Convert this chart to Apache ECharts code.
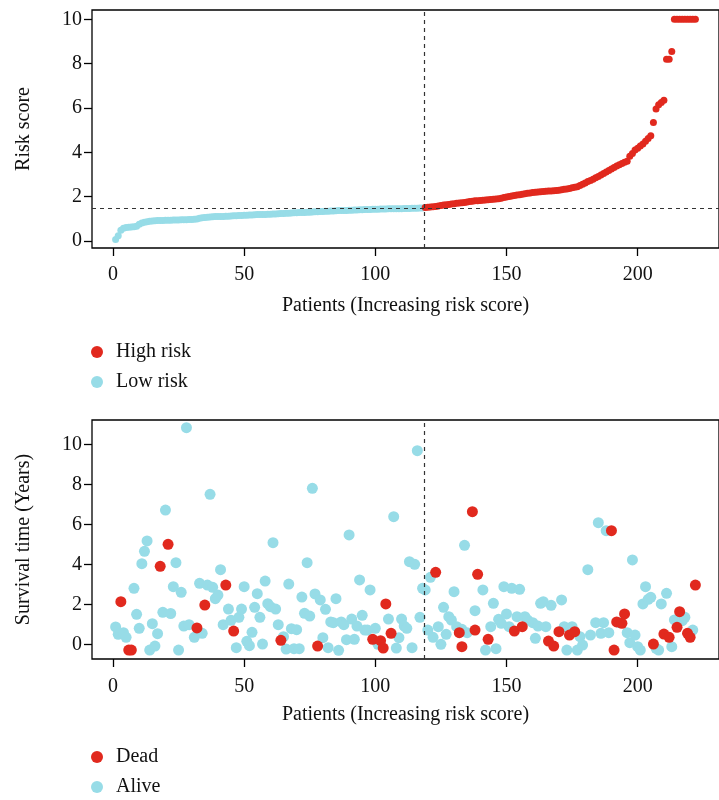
<!DOCTYPE html>
<html>
<head>
<meta charset="utf-8">
<script src="https://cdn.jsdelivr.net/npm/echarts@6/dist/echarts.min.js"></script>
<style>
  html, body { margin: 0; padding: 0; background: #fff; }
  #chart { width: 719px; height: 800px; }
</style>
</head>
<body>
<div id="chart"></div>
<script>
// Risk score of every patient, sorted ascending (patients 1..222)
const riskScore = [
  0.07, 0.24, 0.49, 0.57, 0.61, 0.62, 0.63, 0.64, 0.66, 0.76,
  0.81, 0.84, 0.87, 0.89, 0.90, 0.91, 0.92, 0.93, 0.93, 0.94,
  0.94, 0.94, 0.95, 0.95, 0.95, 0.96, 0.96, 0.96, 0.97, 0.97,
  0.98, 0.99, 1.03, 1.05, 1.06, 1.07, 1.08, 1.09, 1.10, 1.10,
  1.11, 1.11, 1.12, 1.12, 1.13, 1.14, 1.14, 1.15, 1.15, 1.16,
  1.16, 1.17, 1.17, 1.18, 1.19, 1.19, 1.20, 1.20, 1.21, 1.21,
  1.22, 1.22, 1.23, 1.24, 1.24, 1.25, 1.25, 1.26, 1.27, 1.27,
  1.28, 1.28, 1.29, 1.30, 1.30, 1.31, 1.32, 1.32, 1.33, 1.33,
  1.34, 1.34, 1.35, 1.35, 1.36, 1.37, 1.37, 1.38, 1.38, 1.39,
  1.39, 1.40, 1.40, 1.41, 1.41, 1.42, 1.42, 1.42, 1.43, 1.43,
  1.43, 1.44, 1.44, 1.44, 1.45, 1.45, 1.45, 1.46, 1.46, 1.46,
  1.47, 1.47, 1.47, 1.48, 1.48, 1.48, 1.49, 1.49,
  1.51, 1.52, 1.53, 1.55, 1.56, 1.58, 1.60, 1.62, 1.64, 1.65, 1.67, 1.68,
  1.70, 1.71, 1.73, 1.74, 1.76, 1.78, 1.79, 1.81, 1.82, 1.83,
  1.84, 1.85, 1.86, 1.87, 1.88, 1.89, 1.91, 1.93, 1.96, 1.99,
  2.01, 2.03, 2.05, 2.07, 2.09, 2.11, 2.13, 2.15, 2.17, 2.19,
  2.20, 2.21, 2.22, 2.23, 2.24, 2.25, 2.26, 2.27, 2.28, 2.29,
  2.31, 2.33, 2.35, 2.37, 2.40, 2.42, 2.45, 2.50, 2.56, 2.62,
  2.68, 2.73, 2.79, 2.85, 2.91, 2.98, 3.05, 3.11, 3.18, 3.25,
  3.32, 3.38, 3.44, 3.50, 3.55, 3.60, 3.82, 3.95, 4.10, 4.18,
  4.28, 4.38, 4.50, 4.62, 4.75, 5.35, 5.95, 6.15, 6.25, 6.35,
  8.20, 8.20, 8.55, 10, 10, 10, 10, 10, 10, 10, 10, 10
];
const lowRiskCount = 118;      // patients 1..118 are low risk
const riskCutoff = 1.49;       // median risk score
const splitPatient = 118.5;    // boundary between the two groups

// Survival time (years) by patient rank, split by vital status
const aliveIdx = [1, 2, 4, 5, 8, 9, 10, 11, 12, 13, 14, 15, 16, 17, 19, 20, 22, 23, 24, 25,
  26, 27, 28, 29, 31, 33, 34, 36, 37, 38, 39, 40, 41, 42, 44, 45, 47, 48, 49, 50,
  51, 52, 53, 54, 55, 56, 57, 58, 59, 60, 61, 62, 63, 65, 66, 67, 68, 69, 70, 71,
  72, 73, 74, 75, 76, 77, 79, 80, 81, 82, 83, 84, 85, 86, 87, 88, 89, 90, 91, 92,
  93, 94, 95, 96, 97, 98, 100, 101, 105, 107, 108, 109, 110, 111, 112, 113, 114, 115, 116, 117,
  118, 119, 120, 121, 122, 124, 125, 126, 127, 128, 129, 130, 131, 133, 134, 135, 138, 141, 142, 144,
  145, 146, 147, 148, 149, 150, 151, 152, 154, 155, 157, 158, 160, 161, 162, 163, 164, 165, 167, 171,
  172, 173, 175, 177, 178, 179, 181, 182, 184, 185, 186, 187, 188, 189, 193, 196, 197, 198, 199, 200,
  201, 202, 203, 204, 205, 207, 208, 209, 211, 213, 214, 217, 218, 221];
const aliveYears = [0.89, 0.52, 0.6, 0.37, 2.82, 1.52, 0.82, 4.05, 4.67, 5.19, -0.27, 1.05, -0.07, 0.55, 1.62, 6.73, 1.56, 2.9, 4.1, -0.27,
  2.62, 0.93, 10.85, 1.0, 0.37, 3.07, 0.57, 2.98, 7.52, 2.87, 2.3, 2.48, 3.75, 1.0, 1.78, 1.22, -0.15, 1.37, 1.78, 2.9,
  0.17, -0.05, 0.62, 1.87, 2.55, 1.37, 0.03, 3.18, 2.05, 1.9, 5.1, 1.78, 1.0, 0.4, -0.22, 3.03, 0.8, -0.2, 0.75, -0.2,
  2.38, 1.57, 4.1, 1.43, 7.82, 2.54, 2.24, 0.35, 1.77, -0.15, 1.14, 1.1, 2.3, -0.28, 1.14, 1.0, 0.25, 5.49, 1.28, 0.27,
  0.93, 3.24, 1.47, 0.73, 0.73, 2.74, 0.82, 0.02, 1.28, 6.4, -0.17, 0.35, 1.28, 0.93, 0.82, 4.15, -0.15, 4.02, 9.7, 1.37,
  2.82, 2.74, 0.73, 3.37, 0.37, 0.9, 0.02, 1.87, 0.52, 1.4, 1.23, 2.65, 0.9, 0.77, 4.97, 0.6, 1.7, 2.74, -0.27, 0.9,
  2.07, -0.2, 1.27, 1.07, 2.9, 1.54, 0.9, 2.82, 1.4, 2.77, 1.4, 1.24, 1.1, 0.32, 0.93, 2.07, 2.15, 0.9, 1.97, 2.24,
  0.9, -0.27, 0.9, -0.27, 0.4, -0.02, 3.75, 0.48, 1.1, 6.1, 0.57, 1.1, 5.7, 0.6, 1.1, 0.6, 0.1, 4.24, 0.48, -0.1,
  -0.27, 2.04, 2.9, 2.27, 2.37, -0.18, -0.27, 2.04, 2.57, -0.1, 1.24, 1.2, 1.37, 0.73];
const deadIdx = [3, 6, 7, 18, 21, 32, 35, 43, 46, 64, 78, 99, 102, 103, 104, 106, 123, 132, 133, 137,
  138, 139, 143, 153, 156, 166, 168, 170, 174, 176, 190, 191, 192, 194, 195, 206, 210, 212, 215, 216,
  219, 220, 222];
const deadYears = [2.15, -0.27, -0.27, 3.92, 5.02, 0.84, 1.98, 2.98, 0.68, 0.22, -0.07, 0.27, 0.2, -0.17, 2.04, 0.57, 3.62, 0.6, -0.1, 6.65,
  0.73, 3.52, 0.27, 0.68, 0.9, 0.18, -0.07, 0.65, 0.48, 0.65, 5.7, -0.27, 1.14, 1.07, 1.54, 0.03, 0.53, 0.37, 0.87, 1.65,
  0.57, 0.37, 2.98];

// Tick values on the axes
const patientTicks = [0, 50, 100, 150, 200];
const riskTicks = [0, 2, 4, 6, 8, 10];
const survivalTicks = [0, 2, 4, 6, 8, 10];

const RED = '#E1291E';
const BLUE = '#97DCE7';
const FONT = 'Liberation Serif';
const textBase = { fontFamily: FONT, fontSize: 20, color: '#111' };

const highData = [], lowData = [];
riskScore.forEach((v, i) => {
  (i < lowRiskCount ? lowData : highData).push([i + 1, v]);
});
const aliveData = aliveIdx.map((p, i) => [p, aliveYears[i]]);
const deadData = deadIdx.map((p, i) => [p, deadYears[i]]);

function xAxisFor(gridIndex, labelMargin, nameGap) {
  return {
    type: 'value', gridIndex, min: -8, max: 231,
    name: 'Patients (Increasing risk score)', nameLocation: 'middle', nameGap,
    nameTextStyle: textBase,
    axisLine: { show: false, onZero: false },
    axisTick: { show: true, length: 8, lineStyle: { color: '#000', width: 1.3 }, customValues: patientTicks },
    axisLabel: { ...textBase, margin: labelMargin, customValues: patientTicks },
    splitLine: { show: false }
  };
}
function yAxisFor(gridIndex, name, min, max, ticks) {
  return {
    type: 'value', gridIndex, min, max,
    name, nameLocation: 'middle', nameGap: 58, nameTextStyle: textBase,
    axisLine: { show: false, onZero: false },
    axisTick: { show: true, length: 8, lineStyle: { color: '#000', width: 1.3 }, customValues: ticks },
    axisLabel: { ...textBase, margin: 10, customValues: ticks },
    splitLine: { show: false }
  };
}
const dashed = { color: '#333', width: 1.2, type: [4, 4] };
const legendBase = {
  orient: 'vertical', left: 91, padding: 0,
  icon: 'circle', itemWidth: 28, itemHeight: 12, itemGap: 10,
  textStyle: { ...textBase, lineHeight: 20 }
};

const option = {
  animation: false,
  backgroundColor: '#fff',
  grid: [
    { left: 92, top: 10, width: 633, height: 238, show: true, borderColor: '#000', borderWidth: 1.3 },
    { left: 92, top: 420, width: 633, height: 239, show: true, borderColor: '#000', borderWidth: 1.3 }
  ],
  xAxis: [xAxisFor(0, 17, 48), xAxisFor(1, 18, 46)],
  yAxis: [
    yAxisFor(0, 'Risk score', -0.316, 10.42, riskTicks),
    yAxisFor(1, 'Survival time (Years)', -0.715, 11.235, survivalTicks)
  ],
  legend: [
    { ...legendBase, data: ['High risk', 'Low risk'], top: 342 },
    { ...legendBase, data: ['Dead', 'Alive'], top: 747, height: 53 }
  ],
  series: [
    {
      name: 'Low risk', type: 'scatter', xAxisIndex: 0, yAxisIndex: 0,
      symbolSize: 7, itemStyle: { color: BLUE, opacity: 1 }, data: lowData,
      markLine: {
        silent: true, symbol: 'none', label: { show: false }, lineStyle: dashed,
        data: [{ yAxis: riskCutoff }, { xAxis: splitPatient }]
      }
    },
    {
      name: 'High risk', type: 'scatter', xAxisIndex: 0, yAxisIndex: 0,
      symbolSize: 7, itemStyle: { color: RED, opacity: 1 }, data: highData
    },
    {
      name: 'Alive', type: 'scatter', xAxisIndex: 1, yAxisIndex: 1,
      symbolSize: 11, itemStyle: { color: BLUE, opacity: 1 }, data: aliveData,
      markLine: {
        silent: true, symbol: 'none', label: { show: false }, lineStyle: dashed,
        data: [{ xAxis: splitPatient }]
      }
    },
    {
      name: 'Dead', type: 'scatter', xAxisIndex: 1, yAxisIndex: 1,
      symbolSize: 11, itemStyle: { color: RED, opacity: 1 }, data: deadData
    }
  ]
};

const chart = echarts.init(document.getElementById('chart'), null, { renderer: 'canvas' });
chart.setOption(option);
</script>
</body>
</html>
